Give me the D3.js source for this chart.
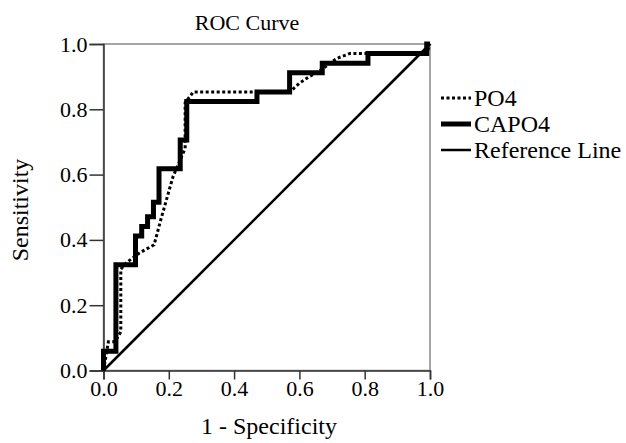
<!DOCTYPE html>
<html>
<head>
<meta charset="utf-8">
<script src="https://cdn.jsdelivr.net/npm/d3@7"></script>
<style>
  body { margin: 0; background: #fff; }
  svg text { font-family: "Liberation Serif", "Times New Roman", serif; fill: #000; }
</style>
</head>
<body>
<svg id="chart" width="626" height="443"></svg>
<script>
// ROC points: [1 - specificity, sensitivity]
var po4Fpr  = [0, 0.015, 0.035, 0.053, 0.053, 0.07, 0.11, 0.155, 0.175, 0.213, 0.25, 0.25, 0.275, 0.57, 0.6, 0.63, 0.665, 0.715, 0.755, 0.99, 1];
var po4Sens = [0, 0.088, 0.088, 0.118, 0.31, 0.33, 0.36, 0.385, 0.46, 0.594, 0.68, 0.82, 0.853, 0.853, 0.88, 0.9, 0.92, 0.956, 0.971, 0.971, 1];

var capo4Fpr  = [0, 0, 0.038, 0.038, 0.098, 0.098, 0.117, 0.117, 0.135, 0.135, 0.153, 0.153, 0.17, 0.17, 0.235, 0.235, 0.255, 0.255, 0.47, 0.47, 0.57, 0.57, 0.67, 0.67, 0.81, 0.81, 0.99, 0.99, 1];
var capo4Sens = [0, 0.059, 0.059, 0.324, 0.324, 0.412, 0.412, 0.441, 0.441, 0.471, 0.471, 0.515, 0.515, 0.618, 0.618, 0.706, 0.706, 0.824, 0.824, 0.853, 0.853, 0.912, 0.912, 0.941, 0.941, 0.971, 0.971, 1, 1];

var refFpr  = [0, 1];
var refSens = [0, 1];

var tickValues = [0, 0.2, 0.4, 0.6, 0.8, 1.0];
var legendLabels = ["PO4", "CAPO4", "Reference Line"];

(function () {
  var svg = d3.select("#chart");
  var pl = 103.5, pr = 430, pt = 44, pb = 370.5;

  var x = d3.scaleLinear().domain([0, 1]).range([pl, pr]);
  var y = d3.scaleLinear().domain([0, 1]).range([pb, pt]);

  // frame
  svg.append("rect")
    .attr("x", pl).attr("y", pt)
    .attr("width", pr - pl).attr("height", pb - pt)
    .attr("fill", "none").attr("stroke", "#888").attr("stroke-width", 1.5);

  var xAxis = svg.append("g")
    .attr("transform", "translate(0," + pb + ")")
    .call(d3.axisBottom(x).tickValues(tickValues).tickFormat(d3.format(".1f")).tickSize(9).tickPadding(1));
  var yAxis = svg.append("g")
    .attr("transform", "translate(" + pl + ",0)")
    .call(d3.axisLeft(y).tickValues(tickValues).tickFormat(d3.format(".1f")).tickSize(14).tickPadding(2));

  [xAxis, yAxis].forEach(function (g) {
    g.select(".domain").attr("stroke", "#333").attr("stroke-width", 1.5);
    g.selectAll(".tick line").attr("stroke", "#333").attr("stroke-width", 1.5);
    g.selectAll(".tick text").style("font-size", "22px").style("font-family", "Liberation Serif");
  });

  function pts(xs, ys) {
    return xs.map(function (v, i) { return [v, ys[i]]; });
  }
  var line = d3.line().x(function (d) { return x(d[0]); }).y(function (d) { return y(d[1]); });

  svg.append("path").datum(pts(refFpr, refSens)).attr("d", line)
    .attr("fill", "none").attr("stroke", "#000").attr("stroke-width", 2.5);
  svg.append("path").datum(pts(po4Fpr, po4Sens)).attr("d", line)
    .attr("fill", "none").attr("stroke", "#000").attr("stroke-width", 3)
    .attr("stroke-dasharray", "3,2.5");
  svg.append("path").datum(pts(capo4Fpr, capo4Sens)).attr("d", line)
    .attr("fill", "none").attr("stroke", "#000").attr("stroke-width", 5)
    .attr("stroke-linejoin", "miter");

  // titles
  svg.append("text").attr("x", 247).attr("y", 30)
    .attr("text-anchor", "middle").style("font-size", "22px").text("ROC Curve");
  svg.append("text").attr("x", 269).attr("y", 434)
    .attr("text-anchor", "middle").style("font-size", "24px").text("1 - Specificity");
  svg.append("text").attr("transform", "translate(28,210) rotate(-90)")
    .attr("text-anchor", "middle").style("font-size", "24px").text("Sensitivity");

  // legend
  var legendStyles = [
    { w: 3, dash: "3,2.5" },
    { w: 5, dash: null },
    { w: 2.5, dash: null }
  ];
  var lg = svg.append("g").attr("transform", "translate(441,98)");
  legendLabels.forEach(function (name, i) {
    var row = lg.append("g").attr("transform", "translate(0," + i * 26 + ")");
    row.append("line").attr("x1", 0).attr("x2", 30).attr("y1", 0).attr("y2", 0)
      .attr("stroke", "#000").attr("stroke-width", legendStyles[i].w)
      .attr("stroke-dasharray", legendStyles[i].dash);
    row.append("text").attr("x", 33).attr("y", 8).style("font-size", "24px").text(name);
  });
})();
</script>
</body>
</html>
